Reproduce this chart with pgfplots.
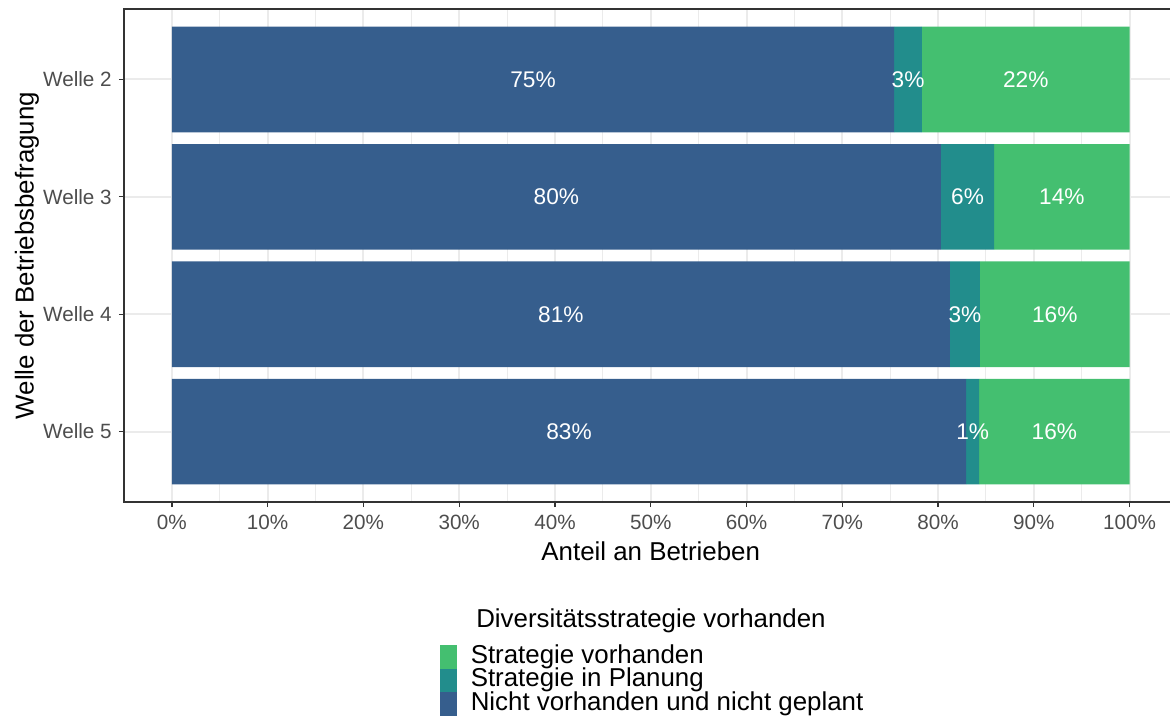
\documentclass[border=0pt]{standalone}
\usepackage{fontspec}
\setmainfont{Liberation Sans}
\usepackage{pgfplots}
\pgfplotsset{compat=1.18}

\definecolor{cblue}{HTML}{365E8D}
\definecolor{cteal}{HTML}{228D8C}
\definecolor{cgreen}{HTML}{44BF70}
\definecolor{gridc}{HTML}{EBEBEB}
\definecolor{axc}{HTML}{333333}
\definecolor{tickc}{HTML}{4D4D4D}

\pgfplotsset{panel/.style={scale only axis, width=784.5pt, height=369.75pt,
  xmin=-5, xmax=104.22, ymin=0.4, ymax=4.6, y dir=reverse}}

\begin{document}
\begin{tikzpicture}
\useasboundingbox (-93pt,-162.75pt) rectangle (784.5pt,376.5pt);
\begin{axis}[
  panel, clip=false,
  xbar stacked, bar width=0.9,
  xtick={0,10,...,100},
  xticklabels={0\%,10\%,20\%,30\%,40\%,50\%,60\%,70\%,80\%,90\%,100\%},
  minor xtick={5,15,...,95},
  ytick={1,2,3,4},
  yticklabels={Welle 2,Welle 3,Welle 4,Welle 5},
  xmajorgrids, xminorgrids, ymajorgrids,
  major grid style={color=gridc, line width=1.5pt},
  minor grid style={color=gridc, line width=0.75pt},
  axis line style={draw=none},
  tick align=outside, xtick pos=bottom, ytick pos=left,
  major tick length=3.75pt, minor tick length=0pt,
  tick style={color=axc, line width=1pt},
  every tick label/.append style={font=\fontsize{15.5}{18}\selectfont, text=tickc, inner sep=0pt},
  xticklabel shift=5.5pt, yticklabel shift=5.25pt,
  xlabel={Anteil an Betrieben},
  xlabel style={at={(axis description cs:0.5036,0)}, anchor=center, yshift=-36.75pt, font=\fontsize{19.4}{22}\selectfont},
  ylabel={Welle der Betriebsbefragung},
  ylabel style={at={(axis description cs:-0.0928,0.5)}, anchor=center, font=\fontsize{19.4}{22}\selectfont},
  legend image code/.code={\fill[#1] (0pt,-8.8pt) rectangle (12.4pt,8.8pt);},
  reverse legend,
  legend cell align=left,
  legend style={at={(axis description cs:0.3021,-0.2901)}, anchor=north west, draw=none, fill=none,
    inner sep=0pt, row sep=0pt, column sep=10.5pt,
    nodes={inner sep=0pt, text height=13.4pt, text depth=4.2pt, font=\fontsize{19.4}{22}\selectfont}},
]
\addplot[fill=cblue, draw=none] coordinates {(75.42,1) (80.30,2) (81.24,3) (82.94,4)};
\addlegendentry{Nicht vorhanden und nicht geplant}
\addplot[fill=cteal, draw=none] coordinates {(2.89,1) (5.56,2) (3.13,3) (1.36,4)};
\addlegendentry{Strategie in Planung}
\addplot[fill=cgreen, draw=none] coordinates {(21.69,1) (14.14,2) (15.63,3) (15.70,4)};
\addlegendentry{Strategie vorhanden}

\draw[axc, line width=0.8pt] (rel axis cs:1,0) -- (rel axis cs:0,0) -- (rel axis cs:0,1) -- (rel axis cs:1,1);
\node[anchor=center, font=\fontsize{19.4}{22}\selectfont] at (axis description cs:0.5038,-0.2414) {Diversitätsstrategie vorhanden};
\end{axis}

% segment labels, centred in each segment
\begin{axis}[panel, hide axis, clip=false]
\addplot[draw=none, mark=none,
  nodes near coords, point meta=explicit symbolic,
  every node near coord/.style={anchor=center, inner sep=0pt, text=white, font=\fontsize{17}{20}\selectfont}]
  coordinates {
  (37.71,1) [75\%] (76.87,1) [3\%] (89.16,1) [22\%]
  (40.15,2) [80\%] (83.08,2) [6\%] (92.93,2) [14\%]
  (40.62,3) [81\%] (82.81,3) [3\%] (92.19,3) [16\%]
  (41.47,4) [83\%] (83.62,4) [1\%] (92.15,4) [16\%]
  };
\end{axis}
\end{tikzpicture}
\end{document}
